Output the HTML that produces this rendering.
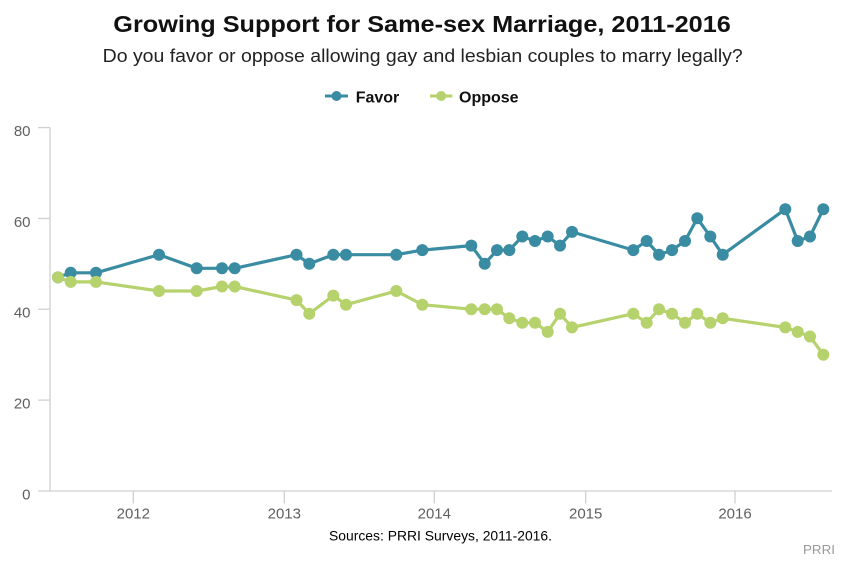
<!DOCTYPE html>
<html>
<head>
<meta charset="utf-8">
<style>
  html, body { margin: 0; padding: 0; background: #ffffff; }
  body { width: 846px; height: 563px; overflow: hidden; }
  svg { display: block; font-family: "Liberation Sans", Arial, sans-serif; }
</style>
</head>
<body>
<svg width="846" height="563" viewBox="0 0 846 563" xmlns="http://www.w3.org/2000/svg">
  <defs>
    <marker id="mf" markerUnits="userSpaceOnUse" markerWidth="14" markerHeight="14" refX="7" refY="7" overflow="visible">
      <circle cx="7" cy="7" r="6" fill="#3a8ca3"/>
    </marker>
    <marker id="mo" markerUnits="userSpaceOnUse" markerWidth="14" markerHeight="14" refX="7" refY="7" overflow="visible">
      <circle cx="7" cy="7" r="6" fill="#b6d26c"/>
    </marker>
  </defs>
  <rect width="846" height="563" fill="#ffffff"/>

  <!-- Title -->
  <text x="113.3" y="31.8" font-size="23" font-weight="bold" fill="#111" textLength="617.5" lengthAdjust="spacingAndGlyphs">Growing Support for Same-sex Marriage, 2011-2016</text>
  <text x="102.7" y="62" font-size="18" fill="#222" textLength="640" lengthAdjust="spacingAndGlyphs">Do you favor or oppose allowing gay and lesbian couples to marry legally?</text>

  <!-- Legend -->
  <line x1="325" y1="96" x2="348" y2="96" stroke="#3a8ca3" stroke-width="3"/>
  <circle cx="336.5" cy="96" r="5" fill="#3a8ca3"/>
  <text x="355.7" y="102.5" font-size="16" font-weight="bold" fill="#111">Favor</text>
  <line x1="430" y1="96" x2="452.3" y2="96" stroke="#b6d26c" stroke-width="3"/>
  <circle cx="441.2" cy="96" r="5" fill="#b6d26c"/>
  <text x="459" y="102.5" font-size="16" font-weight="bold" fill="#111">Oppose</text>

  <!-- Axes -->
  <g stroke="#d0d0d0" stroke-width="1.3" fill="none">
    <line x1="50" y1="127.6" x2="50" y2="491"/>
    <line x1="38" y1="491" x2="832" y2="491"/>
    <line x1="38" y1="127.6" x2="50" y2="127.6"/>
    <line x1="38" y1="218.5" x2="50" y2="218.5"/>
    <line x1="38" y1="309.2" x2="50" y2="309.2"/>
    <line x1="38" y1="400.1" x2="50" y2="400.1"/>
    <line x1="133.3" y1="491" x2="133.3" y2="503.5"/>
    <line x1="284.3" y1="491" x2="284.3" y2="503.5"/>
    <line x1="434.3" y1="491" x2="434.3" y2="503.5"/>
    <line x1="585.7" y1="491" x2="585.7" y2="503.5"/>
    <line x1="735" y1="491" x2="735" y2="503.5"/>
  </g>

  <!-- Y labels -->
  <g font-size="15" fill="#606060" text-anchor="end">
    <text x="30.5" y="136.1">80</text>
    <text x="30.5" y="227">60</text>
    <text x="30.5" y="317.7">40</text>
    <text x="30.5" y="408.6">20</text>
    <text x="30.5" y="499.5">0</text>
  </g>

  <!-- X labels -->
  <g font-size="15" fill="#606060" text-anchor="middle">
    <text x="133.3" y="518.3">2012</text>
    <text x="284.3" y="518.3">2013</text>
    <text x="434.3" y="518.3">2014</text>
    <text x="585.7" y="518.3">2015</text>
    <text x="735" y="518.3">2016</text>
  </g>

  <!-- Favor series -->
  <polyline fill="none" stroke="#3a8ca3" stroke-width="3.2" stroke-linejoin="round"
    marker-start="url(#mf)" marker-mid="url(#mf)" marker-end="url(#mf)"
    points="58,277.4 70.7,272.8 96,272.8 159,254.7 196.7,268.3 222,268.3 234.7,268.3 296.5,254.7 309.3,263.8 333.3,254.7 346,254.7 396.3,254.7 422.3,250.1 471.3,245.6 484.7,263.8 497,250.1 509.3,250.1 522.3,236.5 535,241 547.7,236.5 560,245.6 572,231.9 633.3,250.1 646.7,241 659,254.7 672,250.1 685,241 697.3,218.3 710.3,236.5 722.7,254.7 785.3,209.2 797.7,241 810,236.5 823.3,209.2"/>

  <!-- Oppose series -->
  <polyline fill="none" stroke="#b6d26c" stroke-width="3.2" stroke-linejoin="round"
    marker-start="url(#mo)" marker-mid="url(#mo)" marker-end="url(#mo)"
    points="58,277.4 70.7,281.9 96,281.9 159,291 196.7,291 222,286.5 234.7,286.5 296.5,300.1 309.3,313.7 333.3,295.6 346,304.7 396.3,291 422.3,304.7 471.3,309.2 484.7,309.2 497,309.2 509.3,318.3 522.3,322.8 535,322.8 547.7,331.9 560,313.7 572,327.4 633.3,313.7 646.7,322.8 659,309.2 672,313.7 685,322.8 697.3,313.7 710.3,322.8 722.7,318.3 785.3,327.4 797.7,331.9 810,336.5 823.3,354.7"/>

  <!-- Footer -->
  <text x="329" y="540.5" font-size="14" fill="#000" textLength="223" lengthAdjust="spacingAndGlyphs">Sources: PRRI Surveys, 2011-2016.</text>
  <text x="803" y="554" font-size="13" fill="#9a9a9a" textLength="32" lengthAdjust="spacingAndGlyphs">PRRI</text>
</svg>
</body>
</html>
